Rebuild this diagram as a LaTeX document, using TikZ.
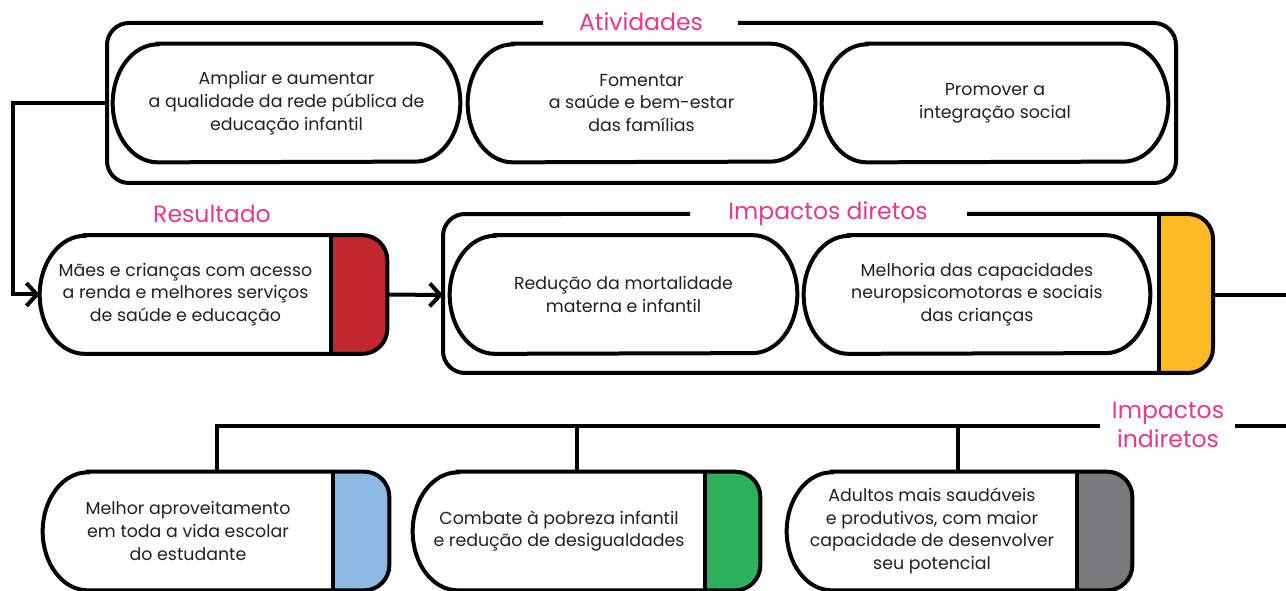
\documentclass[tikz,border=0pt]{standalone}
\usepackage{fontspec}
\setmainfont{Poppins}
\usetikzlibrary{arrows.meta,calc}

\definecolor{inkpink}{HTML}{E6398F}
\definecolor{inktext}{HTML}{231F20}
\definecolor{tabred}{HTML}{C1272D}
\definecolor{tabyellow}{HTML}{FBBA26}
\definecolor{tabblue}{HTML}{8CBAE3}
\definecolor{tabgreen}{HTML}{2BB15B}
\definecolor{tabgray}{HTML}{77797B}

\newcommand{\bodyfont}{\fontsize{9.9}{13}\selectfont}
\newcommand{\headfont}{\fontsize{13.4}{16.5}\selectfont}

% outline of a pill around a text node
\newcommand{\pill}[1]{%
	\draw[frame] ($(#1.north west)+(45,0)$) -- ($(#1.north east)+(-45,0)$)
		arc[start angle=90, end angle=-90, x radius=0.9cm, y radius=1.18cm] --
		($(#1.south west)+(45,0)$)
		arc[start angle=270, end angle=90, x radius=0.9cm, y radius=1.18cm] -- cycle;}

% pill with a coloured tab on its right
\newcommand{\tabpill}[3]{%
	\coordinate (#1-tab) at ($(#1.east)+(#3,0)$);
	\fill[#2] (#1.north east) -- ($(#1.north east)+(#3-25,0)$)
		arc[start angle=90, end angle=0, radius=0.5cm] --
		($(#1.south east)+(#3,-25)$)
		arc[start angle=0, end angle=-90, radius=0.5cm] --
		(#1.south east) -- cycle;
	\draw[frame] ($(#1.north west)+(45,0)$) -- ($(#1.north east)+(#3-25,0)$)
		arc[start angle=90, end angle=0, radius=0.5cm] --
		($(#1.south east)+(#3,-25)$)
		arc[start angle=0, end angle=-90, radius=0.5cm] --
		($(#1.south west)+(45,0)$)
		arc[start angle=270, end angle=90, x radius=0.9cm, y radius=1.18cm] -- cycle;
	\draw[frame] (#1.north east) -- (#1.south east);}

\begin{document}
\begin{tikzpicture}[x=0.02cm, y=-0.02cm,
		frame/.style={line width=0.08cm},
		link/.style={line width=0.08cm},
		tip/.style={-{Straight Barb[length=6pt, width=13pt]}},
		pilltext/.style={minimum height=2.36cm, inner sep=0pt, align=center, text=inktext, font=\bodyfont},
		head/.style={inner sep=0pt, align=center, text=inkpink, font=\headfont}]
	\useasboundingbox (0,0) rectangle (1286,591);

	\node[head] (atvhead) at (641,22) {Atividades};
	\draw[frame, rounded corners=0.44cm] (738,23) -- (1176,23) -- (1176,183) -- (107,183) -- (107,23) -- (543,23);
	\coordinate (atvleft) at (107,103);

	\node[pilltext, minimum width=6.94cm] (atv1) at (286.5,103) {Ampliar e aumentar\\a qualidade da rede pública de\\educação infantil};
	\node[pilltext, minimum width=6.94cm] (atv2) at (641.5,103) {Fomentar\\a saúde e bem-estar\\das famílias};
	\node[pilltext, minimum width=6.92cm] (atv3) at (995,103) {Promover a\\integração social};
	\pill{atv1}
	\pill{atv2}
	\pill{atv3}

	\node[head] (reshead) at (212,214) {Resultado};
	\node[pilltext, minimum width=5.82cm] (res) at (185.5,294.5) {Mães e crianças com acesso\\a renda e melhores serviços\\de saúde e educação};
	\tabpill{res}{tabred}{56}

	\node[head] (dirhead) at (828,214) {Impactos diretos};
	\fill[tabyellow] (1159,214) -- (1188,214) arc[start angle=90, end angle=0, radius=0.5cm] --
		(1213,348) arc[start angle=0, end angle=-90, radius=0.5cm] -- (1159,373) -- cycle;
	\draw[frame] (967,214) -- (1188,214) arc[start angle=90, end angle=0, radius=0.5cm] --
		(1213,348) arc[start angle=0, end angle=-90, radius=0.5cm] --
		(465,373) arc[start angle=270, end angle=180, radius=0.44cm] --
		(443,236) arc[start angle=180, end angle=90, radius=0.44cm] -- (690,214);
	\draw[frame] (1159,214) -- (1159,373);
	\coordinate (dirleft) at (443,295);
	\coordinate (dirright) at (1213,295);
	\coordinate (exit) at (1286,295);

	\node[pilltext, minimum width=6.94cm] (dir1) at (623.5,294.5) {Redução da mortalidade\\materna e infantil};
	\node[pilltext, minimum width=6.92cm] (dir2) at (977,294.5) {Melhoria das capacidades\\neuropsicomotoras e sociais\\das crianças};
	\pill{dir1}
	\pill{dir2}

	\draw[link, tip] (atvleft) -- ++(-94,0) |- (res.west);
	\draw[link, tip] (res-tab) -- (dirleft);
	\draw[link] (dirright) -- (exit);

	\node[head] (indhead) at (1168,425) {Impactos\\indiretos};
	\node[pilltext, minimum width=5.8cm] (ind1) at (188,531) {Melhor aproveitamento\\em toda a vida escolar\\do estudante};
	\node[pilltext, minimum width=5.84cm] (ind2) at (559,531) {Combate à pobreza infantil\\e redução de desigualdades};
	\node[pilltext, minimum width=5.8cm] (ind3) at (932,531) {Adultos mais saudáveis\\e produtivos, com maior\\capacidade de desenvolver\\seu potencial};
	\tabpill{ind1}{tabblue}{56}
	\tabpill{ind2}{tabgreen}{55}
	\tabpill{ind3}{tabgray}{55}

	\coordinate (bus1) at (217,426);
	\coordinate (bus2) at (577,426);
	\coordinate (bus3) at (958,426);
	\draw[link] (1100,426) -- (bus1) -- (bus1 |- ind1.north);
	\draw[link] (bus2) -- (bus2 |- ind2.north);
	\draw[link] (bus3) -- (bus3 |- ind3.north);
	\draw[link] (1235,426) -- (1286,426);
\end{tikzpicture}
\end{document}
